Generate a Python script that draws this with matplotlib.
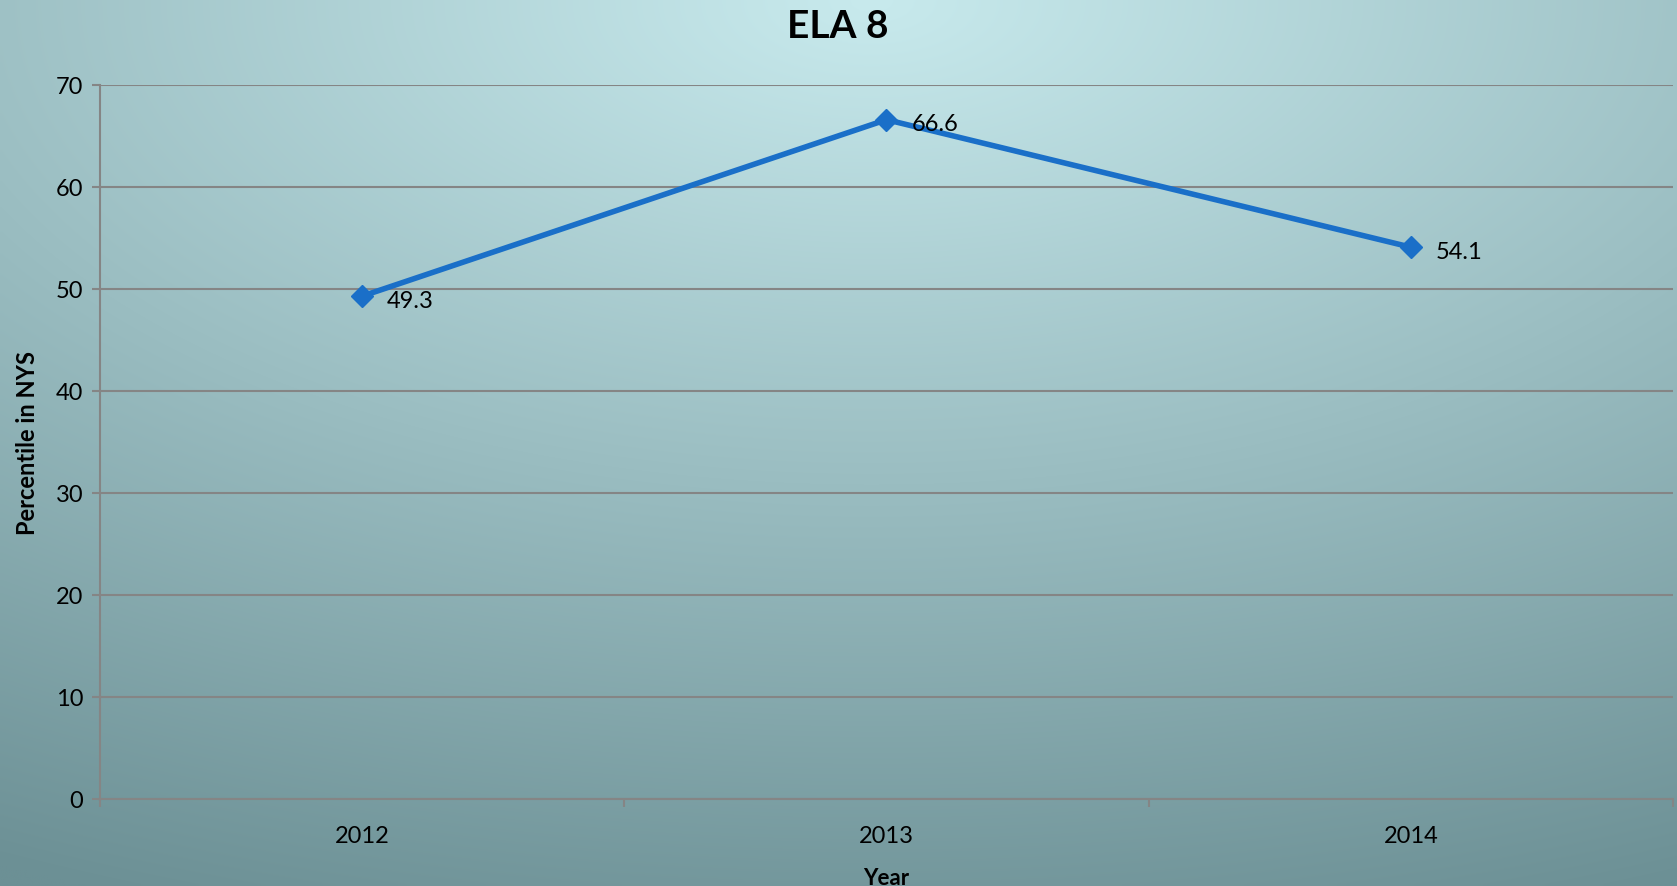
import numpy as np
import matplotlib.pyplot as plt

# Data
years = ['2012', '2013', '2014']
percentile = [49.3, 66.6, 54.1]

plt.rcParams['font.family'] = ['Lato', 'DejaVu Sans']

W, H = 1677, 887
fig = plt.figure(figsize=(W / 100, H / 100), dpi=100)

# background gradient (light at top centre, darker teal toward the bottom corners)
bg = fig.add_axes([0, 0, 1, 1], zorder=0)
gx, gy = np.meshgrid(np.linspace(0, 1, 400), np.linspace(0, 1, 200))
d = np.sqrt(((gx - 0.52) * 1.0) ** 2 + ((gy - 0.0) * 1.05) ** 2)
d = np.clip(d / 1.15, 0, 1)
c_light = np.array([0xc8, 0xea, 0xed]) / 255
c_dark = np.array([0x6c, 0x90, 0x95]) / 255
img = c_light[None, None, :] * (1 - d[..., None]) + c_dark[None, None, :] * d[..., None]
bg.imshow(img, extent=[0, 1, 1, 0], aspect='auto', interpolation='bilinear')
bg.set_xlim(0, 1)
bg.set_ylim(1, 0)
bg.axis('off')

ax = fig.add_axes([100 / W, 87 / H, 1573 / W, 714 / H], zorder=1)
ax.patch.set_alpha(0)

x = np.arange(len(years))
ax.plot(x, percentile, color='#1a6fc8', lw=4, marker='D', ms=11, zorder=3)
for xi, v in zip(x, percentile):
    ax.annotate(f'{v}', (xi, v), xytext=(18, -3), textcoords='offset points',
                ha='left', va='center', fontsize=17, color='black')

ax.set_xlim(-0.5, 2.5)
ax.set_ylim(0, 70)
ax.set_yticks(range(0, 71, 10))
ax.set_xticks(x)
ax.set_xticklabels(years)
ax.set_xticks([-0.5, 0.5, 1.5, 2.5], minor=True)
ax.tick_params(axis='x', which='major', length=0, labelsize=17, pad=19)
ax.tick_params(axis='x', which='minor', length=6, width=1.5, color='#858585', direction='out')
ax.tick_params(axis='y', length=6, width=1.5, color='#858585', labelsize=17, pad=6)

ax.grid(axis='y', color='#858585', lw=1.5)
ax.set_axisbelow(True)
for s in ['top', 'right']:
    ax.spines[s].set_visible(False)
for s in ['left', 'bottom']:
    ax.spines[s].set_color('#858585')
    ax.spines[s].set_linewidth(1.5)

ax.set_ylabel('Percentile in NYS', fontsize=17, fontweight='bold', labelpad=12)
ax.set_xlabel('Year', fontsize=16, fontweight='bold', labelpad=15)
fig.text(838 / W, 1 - 26 / H, 'ELA 8', ha='center', va='center',
         fontsize=28, fontweight='bold')

fig.savefig('out.png', dpi=100)
